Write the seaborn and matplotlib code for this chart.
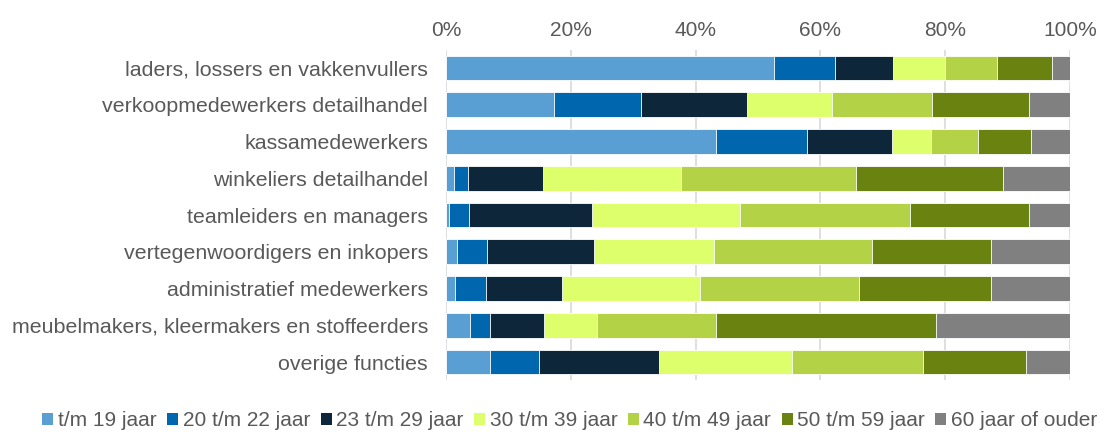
import matplotlib
matplotlib.use("Agg")
import matplotlib.pyplot as plt
from matplotlib.patches import Patch
from matplotlib.ticker import PercentFormatter
import numpy as np
import pandas as pd
import seaborn as sns

# beroepen (van boven naar beneden)
beroepen = [
    "laders, lossers en vakkenvullers",
    "verkoopmedewerkers detailhandel",
    "kassamedewerkers",
    "winkeliers detailhandel",
    "teamleiders en managers",
    "vertegenwoordigers en inkopers",
    "administratief medewerkers",
    "meubelmakers, kleermakers en stoffeerders",
    "overige functies",
]

leeftijden = [
    "t/m 19 jaar", "20 t/m 22 jaar", "23 t/m 29 jaar", "30 t/m 39 jaar",
    "40 t/m 49 jaar", "50 t/m 59 jaar", "60 jaar of ouder",
]

# aandeel per leeftijdsgroep (%)
tm19 = [52.5, 17.3, 43.3, 1.2, 0.5, 1.8, 1.5, 3.8, 7.0]
j20_22 = [9.8, 14.0, 14.5, 2.3, 3.1, 4.8, 4.9, 3.3, 7.9]
j23_29 = [9.4, 17.0, 13.7, 12.1, 19.8, 17.1, 12.2, 8.6, 19.3]
j30_39 = [8.3, 13.6, 6.3, 22.0, 23.7, 19.2, 22.1, 8.5, 21.3]
j40_49 = [8.3, 16.0, 7.4, 28.1, 27.2, 25.4, 25.5, 19.1, 21.0]
j50_59 = [8.8, 15.6, 8.5, 23.5, 19.2, 19.1, 21.2, 35.3, 16.5]
j60 = [2.9, 6.5, 6.3, 10.8, 6.5, 12.6, 12.6, 21.4, 7.0]

kleuren = ["#599FD3", "#0066AE", "#0D2639", "#DDFF6B", "#B3D246", "#6A8210", "#808080"]

df = pd.DataFrame(
    {"beroep": beroepen, leeftijden[0]: tm19, leeftijden[1]: j20_22, leeftijden[2]: j23_29,
     leeftijden[3]: j30_39, leeftijden[4]: j40_49, leeftijden[5]: j50_59, leeftijden[6]: j60}
)
cum = df[leeftijden].cumsum(axis=1)
cum = cum.div(cum[leeftijden[-1]], axis=0) * 100  # netjes op 100%
cum["beroep"] = beroepen

sns.set_style("white")
plt.rcParams["font.family"] = ["Liberation Sans", "DejaVu Sans"]

fig = plt.figure(figsize=(11, 4.32), dpi=100)
ax = fig.add_axes([0.4055, 0.1194, 0.5672, 0.7658])

# gestapeld: eerst de hele balk, dan steeds kleinere stukken erover
for naam, kleur in reversed(list(zip(leeftijden, kleuren))):
    sns.barplot(data=cum, x=naam, y="beroep", order=beroepen, color=kleur,
                width=0.67, saturation=1, linewidth=0.6, edgecolor="white",
                orient="h", ax=ax, zorder=3)

ax.set_xlim(0, 100)
ax.set_ylim(len(beroepen) - 0.5, -0.5)
ax.set_xticks(np.arange(0, 101, 20))
ax.xaxis.set_major_formatter(PercentFormatter(decimals=0))
ax.xaxis.tick_top()
ax.grid(axis="x", color="#D9D9D9", linewidth=1.2, zorder=0)
ax.set_axisbelow(True)
for s in ax.spines.values():
    s.set_visible(False)
ax.set_xlabel("")
ax.set_ylabel("")
ax.tick_params(axis="both", length=0, labelsize=15, colors="#595959")
ax.tick_params(axis="x", pad=7)
ax.tick_params(axis="y", pad=13, labelsize=15.4)

handles = [Patch(facecolor=k, edgecolor="none", label=l) for l, k in zip(leeftijden, kleuren)]
fig.legend(handles=handles, loc="center", bbox_to_anchor=(0.518, 0.026), ncol=7,
           frameon=False, fontsize=15, handlelength=0.53, handleheight=0.53,
           handletextpad=0.22, columnspacing=0.5, labelcolor="#595959",
           borderaxespad=0, borderpad=0)

fig.savefig("out.png", dpi=100)
